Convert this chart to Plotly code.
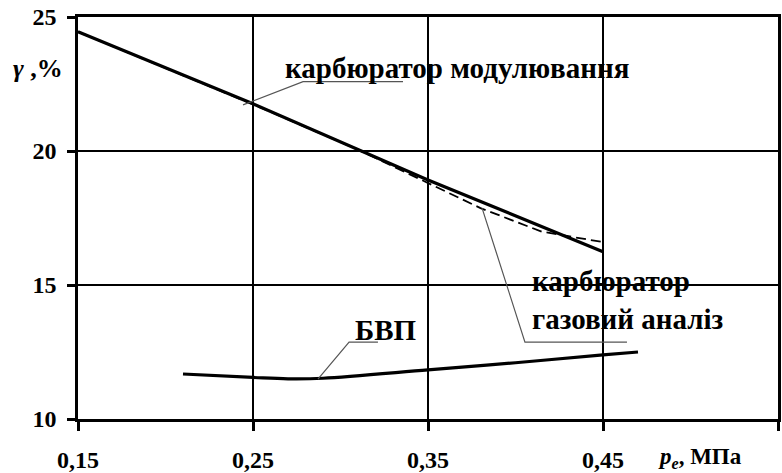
import plotly.graph_objects as go

# Carburettor, modulation method
x_mod = [0.15, 0.25, 0.35, 0.45]
y_mod = [24.45, 21.76, 18.92, 16.24]

# Carburettor, gas analysis
x_gas = [0.15, 0.25, 0.31, 0.35, 0.38, 0.415, 0.45]
y_gas = [24.45, 21.74, 20.05, 18.8, 17.87, 16.99, 16.6]

# БВП
x_bvp = [0.21, 0.25, 0.27, 0.29, 0.35, 0.40, 0.45, 0.47]
y_bvp = [11.68, 11.55, 11.5, 11.52, 11.83, 12.1, 12.39, 12.5]

x_ticks = [0.15, 0.25, 0.35, 0.45]
x_ticktext = ["0,15", "0,25", "0,35", "0,45"]
x_end_tick = [0.55]
y_ticks = [10, 15, 20, 25]

# leader lines (data coordinates): curve point -> elbow -> end of underline
lead_mod = [(0.2443, 21.72), (0.2786, 22.59), (0.3357, 22.59)]
lead_gas = [(0.3809, 17.87), (0.4054, 12.87), (0.4637, 12.87)]
lead_bvp = [(0.2871, 11.49), (0.3049, 12.87), (0.3214, 12.87)]

FONT = "Liberation Serif, Times New Roman, Times, serif"

fig = go.Figure()
fig.add_trace(go.Scatter(x=x_mod, y=y_mod, mode="lines",
                         line=dict(color="black", width=3.2)))
fig.add_trace(go.Scatter(x=x_gas, y=y_gas, mode="lines",
                         line=dict(color="black", width=1.8, dash="10px,5px")))
fig.add_trace(go.Scatter(x=x_bvp, y=y_bvp, mode="lines",
                         line=dict(color="black", width=3.2, shape="spline")))


def path_of(pts):
    return "M " + " L ".join(f"{x},{y}" for x, y in pts)


for pts in (lead_mod, lead_gas, lead_bvp):
    fig.add_shape(type="path", path=path_of(pts), xref="x", yref="y",
                  line=dict(color="#555555", width=1.2))

label_font = dict(family=FONT, size=29, color="black")
fig.add_annotation(x=0.2671, y=23.1, xref="x", yref="y", xanchor="left",
                   yanchor="middle", showarrow=False,
                   text="<b>карбюратор модулювання</b>", font=label_font)
fig.add_annotation(x=0.4083, y=14.44, xref="x", yref="y", xanchor="left",
                   yanchor="middle", showarrow=False, align="left",
                   text="<b>карбюратор<br>газовий аналіз</b>", font=label_font)
fig.add_annotation(x=0.3071, y=13.32, xref="x", yref="y", xanchor="left",
                   yanchor="middle", showarrow=False,
                   text="<b>БВП</b>", font=label_font)

# axis titles
fig.add_annotation(x=-0.0186, y=0.873, xref="paper", yref="paper",
                   xanchor="right", yanchor="middle", showarrow=False,
                   text="<b><i>γ</i> ,%</b>",
                   font=dict(family=FONT, size=26, color="black"))
fig.add_annotation(x=0.826, y=-0.097, xref="paper", yref="paper",
                   xanchor="left", yanchor="middle", showarrow=False,
                   text="<b><i>p<sub>e</sub></i>, МПа</b>",
                   font=dict(family=FONT, size=23, color="black"))

axis_common = dict(showline=True, linecolor="black", linewidth=2.5,
                   mirror=True, showgrid=True, gridcolor="black", gridwidth=2,
                   zeroline=False, ticks="outside", tickcolor="black",
                   tickwidth=2.5, automargin=False,
                   tickfont=dict(family=FONT, size=24, color="black"))

fig.update_xaxes(range=[0.15, 0.55], tickvals=x_ticks,
                 ticktext=[f"<b>{t}</b>" for t in x_ticktext],
                 ticklen=9, ticklabelstandoff=8,
                 minor=dict(tickvals=x_end_tick, ticks="outside", ticklen=9,
                            tickwidth=2.5, tickcolor="black", showgrid=False),
                 **axis_common)
fig.update_yaxes(range=[10, 25], tickvals=y_ticks,
                 ticktext=[f"<b>{v}</b>" for v in y_ticks],
                 ticklen=8, ticklabelstandoff=6, **axis_common)

fig.update_layout(width=782, height=473, showlegend=False,
                  plot_bgcolor="white", paper_bgcolor="white",
                  margin=dict(l=78, r=4, t=17, b=54))

fig.write_html("out.html")
